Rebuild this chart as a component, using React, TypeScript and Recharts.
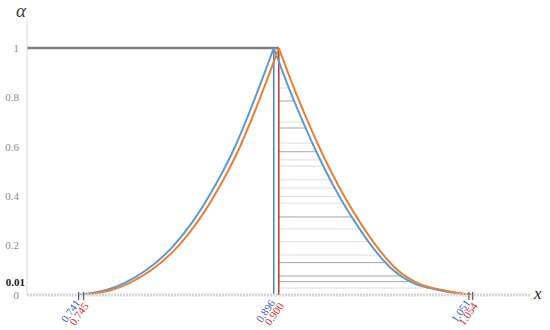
import React from 'react';
import { ComposedChart, Line, XAxis, YAxis, ReferenceLine } from 'recharts';

// membership levels shared by every branch
const alphaLevels = [0, 0.02, 0.05, 0.1, 0.2, 0.3, 0.4, 0.5, 0.6, 0.7, 0.8, 0.9, 1];

// x for each level
const blueLeftX = [0.741, 0.763, 0.778, 0.7945, 0.8165, 0.832, 0.8445, 0.8555, 0.8652, 0.8735, 0.8813, 0.8888, 0.896];
const blueRightX = [1.051, 1.027, 1.006, 0.991, 0.9735, 0.96, 0.948, 0.9375, 0.928, 0.9193, 0.911, 0.9033, 0.896];
const orangeLeftX = [0.745, 0.767, 0.782, 0.7985, 0.8205, 0.836, 0.8485, 0.8595, 0.8692, 0.8775, 0.8853, 0.8928, 0.9];
const orangeRightX = [1.054, 1.03, 1.0095, 0.9945, 0.9772, 0.9638, 0.952, 0.9415, 0.932, 0.9233, 0.915, 0.9073, 0.9];

// hatching between the red line and the blue right branch
const hatchAlphas = [0.899, 0.838, 0.785, 0.7, 0.676, 0.615, 0.58, 0.547, 0.522, 0.466, 0.433, 0.398, 0.372, 0.316, 0.267, 0.216, 0.162, 0.131, 0.077, 0.054, 0.028];
const hatchDark = [false, false, true, false, true, false, true, false, false, false, false, false, false, true, false, false, false, true, true, true, false];

const xTicks = [0.741, 0.745, 0.896, 0.9, 1.051, 1.054];
const xTickLabels = ['0.741', '0.745', '0.896', '0.900', '1.051', '1.054'];
const yTicks = [0, 0.01, 0.2, 0.4, 0.6, 0.8, 1];

const BLUE = '#5B9BD5';
const ORANGE = '#ED7D31';
const LABEL_BLUE = '#3A63B8';
const LABEL_RED = '#D42A2A';
const FONT = '"Liberation Serif", "DejaVu Serif", serif';

const branch = (xs: number[]) =>
  xs.map((x, i) => ({ x, y: alphaLevels[i] })).sort((a, b) => a.x - b.x);

const blueLeft = branch(blueLeftX);
const blueRight = branch(blueRightX);
const orangeLeft = branch(orangeLeftX);
const orangeRight = branch(orangeRightX);

// where a level meets the blue right branch
const blueRightAt = (a: number) => {
  for (let i = 0; i < alphaLevels.length - 1; i++) {
    const a0 = alphaLevels[i];
    const a1 = alphaLevels[i + 1];
    if (a >= a0 && a <= a1) {
      const t = (a - a0) / (a1 - a0);
      return blueRightX[i] + t * (blueRightX[i + 1] - blueRightX[i]);
    }
  }
  return blueRightX[blueRightX.length - 1];
};

const XTick = (props: any) => {
  const { x, y, payload } = props;
  const i = xTicks.indexOf(payload.value);
  const first = i % 2 === 0;
  const mark = payload.value !== 0.896 && payload.value !== 0.9;
  return (
    <g>
      {mark && <line x1={x} x2={x} y1={y - 3} y2={y + 5} stroke="#595959" strokeWidth={1.2} />}
      <text
        transform={`translate(${x + (first ? 2 : 5.5)},${y + (first ? 8 : 11)}) rotate(-55)`}
        textAnchor="end"
        fill={first ? LABEL_BLUE : LABEL_RED}
        fontSize={11}
        fontFamily={FONT}
      >
        {xTickLabels[i]}
      </text>
    </g>
  );
};

const YTick = (props: any) => {
  const { x, y, payload } = props;
  const special = payload.value === 0.01;
  return (
    <text
      x={special ? x - 2 : x - 8}
      y={special ? y - 10 : y}
      dy="0.355em"
      textAnchor="end"
      fill={special ? '#1a1a1a' : '#8c8c8c'}
      fontWeight={special ? 'bold' : 'normal'}
      fontSize={11}
      fontFamily={FONT}
    >
      {special ? '0.01' : String(payload.value)}
    </text>
  );
};

export default function App() {
  return (
    <div style={{ position: 'absolute', left: 0, top: 0, width: 550, height: 330, background: '#fff' }}>
      <ComposedChart width={550} height={330} margin={{ top: 20.8, right: 19.4, bottom: 0, left: 0 }}>
        <XAxis
          type="number"
          dataKey="x"
          domain={[0.7, 1.1]}
          ticks={xTicks}
          interval={0}
          allowDataOverflow
          height={35}
          tickSize={0}
          tickMargin={0}
          tickLine={false}
          axisLine={{ stroke: '#d6d6d6', strokeWidth: 3, strokeDasharray: '2 1' }}
          tick={<XTick />}
        />
        <YAxis
          type="number"
          dataKey="y"
          domain={[0, 1.11]}
          ticks={yTicks}
          interval={0}
          allowDataOverflow
          width={27}
          tickSize={0}
          tickMargin={0}
          tickLine={false}
          axisLine={{ stroke: '#d9d9d9', strokeWidth: 1 }}
          tick={<YTick />}
        />
        {hatchAlphas.map((a, i) => (
          <ReferenceLine
            key={`h${i}`}
            segment={[{ x: 0.9, y: a }, { x: blueRightAt(a), y: a }]}
            stroke={hatchDark[i] ? '#a6a6a6' : '#dedede'}
            strokeWidth={1}
            ifOverflow="visible"
          />
        ))}
        <ReferenceLine segment={[{ x: 0.7, y: 1 }, { x: 0.9, y: 1 }]} stroke="#7f7f7f" strokeWidth={2.5} ifOverflow="visible" />
        <ReferenceLine segment={[{ x: 0.896, y: 0 }, { x: 0.896, y: 1 }]} stroke="#4F7FD0" strokeWidth={1.5} ifOverflow="visible" />
        <ReferenceLine segment={[{ x: 0.9, y: 0 }, { x: 0.9, y: 1 }]} stroke="#C0392B" strokeWidth={1.5} ifOverflow="visible" />
        <Line data={blueLeft} dataKey="y" type="monotone" stroke={BLUE} strokeWidth={2} dot={false} isAnimationActive={false} />
        <Line data={blueRight} dataKey="y" type="monotone" stroke={BLUE} strokeWidth={2} dot={false} isAnimationActive={false} />
        <Line data={orangeLeft} dataKey="y" type="monotone" stroke={ORANGE} strokeWidth={2} dot={false} isAnimationActive={false} />
        <Line data={orangeRight} dataKey="y" type="monotone" stroke={ORANGE} strokeWidth={2} dot={false} isAnimationActive={false} />
      </ComposedChart>
      <span style={{ position: 'absolute', left: 16, top: 0, fontFamily: FONT, fontStyle: 'italic', fontSize: 19, color: '#404040' }}>α</span>
      <span style={{ position: 'absolute', left: 534, top: 284, fontFamily: FONT, fontStyle: 'italic', fontSize: 17, color: '#262626' }}>x</span>
    </div>
  );
}
